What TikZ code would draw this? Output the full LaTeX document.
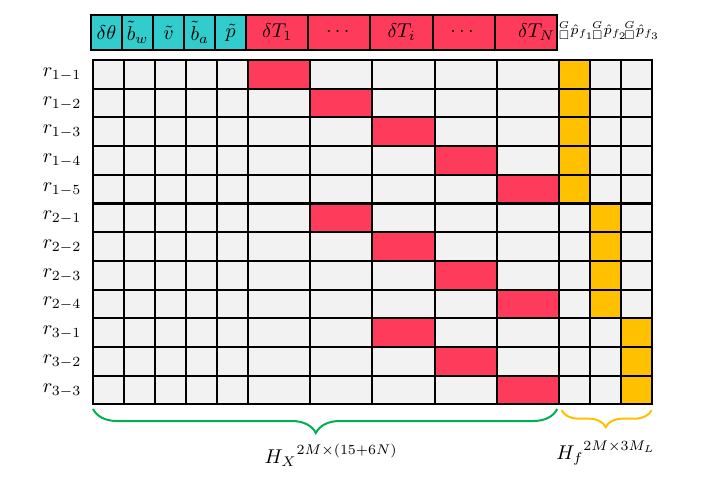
\documentclass[tikz,border=0pt]{standalone}
\usepackage{amsmath}
\usepackage{amssymb}
\usepackage{tikz}
\usetikzlibrary{decorations.pathreplacing}
\usepackage{xcolor}
\definecolor{stateTeal}{RGB}{51,204,204}
\definecolor{poseRed}{RGB}{255,59,92}
\definecolor{featYellow}{RGB}{255,192,0}
\definecolor{cellGray}{RGB}{242,242,242}
\definecolor{braceGreen}{RGB}{0,176,80}
\tikzset{cellBox/.style={draw, line width=1pt, fill=cellGray, inner sep=0pt, minimum width=15.525pt, minimum height=14.35pt}}
\tikzset{cellBoxWide/.style={cellBox, minimum width=31.05pt}}
\tikzset{poseCell/.style={cellBoxWide, fill=poseRed}}
\tikzset{featCell/.style={cellBox, fill=featYellow}}
\tikzset{stateBox/.style={draw, line width=1pt, fill=stateTeal, inner sep=0pt, minimum width=15.525pt, minimum height=17.5pt}}
\tikzset{poseBox/.style={stateBox, fill=poseRed, minimum width=31.05pt}}
\tikzset{rowLabel/.style={anchor=east, inner sep=1pt}}
\tikzset{featLabel/.style={inner sep=0pt, font=\scriptsize}}
\tikzset{braceX/.style={decorate, decoration={brace, mirror, amplitude=12pt, aspect=0.48}, draw=braceGreen, line width=1pt}}
\tikzset{braceF/.style={decorate, decoration={brace, mirror, amplitude=8.5pt, aspect=0.49}, draw=featYellow, line width=1pt}}
\begin{document}
\begin{tikzpicture}[x=15.525pt, y=-14.35pt]
\useasboundingbox (-2.995,-2.09) rectangle (19.58,14.84);

% gray grid
\foreach \r in {1,...,12} {
  \foreach \x [count=\c] in {0.5,1.5,2.5,3.5,4.5,15.5,16.5,17.5}
    \node[cellBox] (g\r-\c) at (\x, \r-0.5) {};
  \foreach \x [count=\c from 9] in {6,8,10,12,14}
    \node[cellBoxWide] (g\r-\c) at (\x, \r-0.5) {};
}

% header
\begin{scope}[xshift=-1pt]
\node[stateBox] (h1) at (0.5, -0.96) {$\delta\theta$};
\node[stateBox] (h2) at (1.5, -0.96) {$\tilde{b}_w$};
\node[stateBox] (h3) at (2.5, -0.96) {$\tilde{v}$};
\node[stateBox] (h4) at (3.5, -0.96) {$\tilde{b}_a$};
\node[stateBox] (h5) at (4.5, -0.96) {$\tilde{p}$};
\node[poseBox] (h6) at (6, -0.96) {$\delta T_1$};
\node[poseBox] (h7) at (8, -0.96) {$\cdots$};
\node[poseBox] (h8) at (10, -0.96) {$\delta T_i$};
\node[poseBox] (h9) at (12, -0.96) {$\cdots$};
\node[poseBox, text width=29pt, align=right] (h10) at (14, -0.96) {$\delta T_N$};
\end{scope}

\node[featLabel] (fl1) at (15.57, -1.01) {${}^{G}_{\scriptscriptstyle\square}\hat{p}_{f_1}$};
\node[featLabel] (fl2) at (16.64, -1.01) {${}^{G}_{\scriptscriptstyle\square}\hat{p}_{f_2}$};
\node[featLabel] (fl3) at (17.68, -1.01) {${}^{G}_{\scriptscriptstyle\square}\hat{p}_{f_3}$};

% row labels
\node[rowLabel] (r1) at (-0.3, 0.5) {$r_{1-1}$};
\node[rowLabel] (r2) at (-0.3, 1.5) {$r_{1-2}$};
\node[rowLabel] (r3) at (-0.3, 2.5) {$r_{1-3}$};
\node[rowLabel] (r4) at (-0.3, 3.5) {$r_{1-4}$};
\node[rowLabel] (r5) at (-0.3, 4.5) {$r_{1-5}$};
\node[rowLabel] (r6) at (-0.3, 5.5) {$r_{2-1}$};
\node[rowLabel] (r7) at (-0.3, 6.5) {$r_{2-2}$};
\node[rowLabel] (r8) at (-0.3, 7.5) {$r_{2-3}$};
\node[rowLabel] (r9) at (-0.3, 8.5) {$r_{2-4}$};
\node[rowLabel] (r10) at (-0.3, 9.5) {$r_{3-1}$};
\node[rowLabel] (r11) at (-0.3, 10.5) {$r_{3-2}$};
\node[rowLabel] (r12) at (-0.3, 11.5) {$r_{3-3}$};

% pose blocks
\node[poseCell] (p1) at (6, 0.5) {};
\node[poseCell] (p2) at (8, 1.5) {};
\node[poseCell] (p3) at (10, 2.5) {};
\node[poseCell] (p4) at (12, 3.5) {};
\node[poseCell] (p5) at (14, 4.5) {};
\node[poseCell] (p6) at (8, 5.5) {};
\node[poseCell] (p7) at (10, 6.5) {};
\node[poseCell] (p8) at (12, 7.5) {};
\node[poseCell] (p9) at (14, 8.5) {};
\node[poseCell] (p10) at (10, 9.5) {};
\node[poseCell] (p11) at (12, 10.5) {};
\node[poseCell] (p12) at (14, 11.5) {};

% feature blocks
\node[featCell] (f1) at (15.5, 0.5) {};
\node[featCell] (f2) at (15.5, 1.5) {};
\node[featCell] (f3) at (15.5, 2.5) {};
\node[featCell] (f4) at (15.5, 3.5) {};
\node[featCell] (f5) at (15.5, 4.5) {};
\node[featCell] (f6) at (16.5, 5.5) {};
\node[featCell] (f7) at (16.5, 6.5) {};
\node[featCell] (f8) at (16.5, 7.5) {};
\node[featCell] (f9) at (16.5, 8.5) {};
\node[featCell] (f10) at (17.5, 9.5) {};
\node[featCell] (f11) at (17.5, 10.5) {};
\node[featCell] (f12) at (17.5, 11.5) {};

% braces
\coordinate (hxL) at (0, 12.16);
\coordinate (hxR) at (14.95, 12.16);
\coordinate (hfL) at (15.09, 12.2);
\coordinate (hfR) at (17.99, 12.2);
\draw[braceX] (hxL) -- (hxR);
\draw[braceF] (hfL) -- (hfR);
\node (hx) at (7.67, 13.76) {${H_X}^{2M\times(15+6N)}$};
\node (hf) at (16.52, 13.7) {${H_f}^{2M\times 3M_L}$};

\end{tikzpicture}
\end{document}
